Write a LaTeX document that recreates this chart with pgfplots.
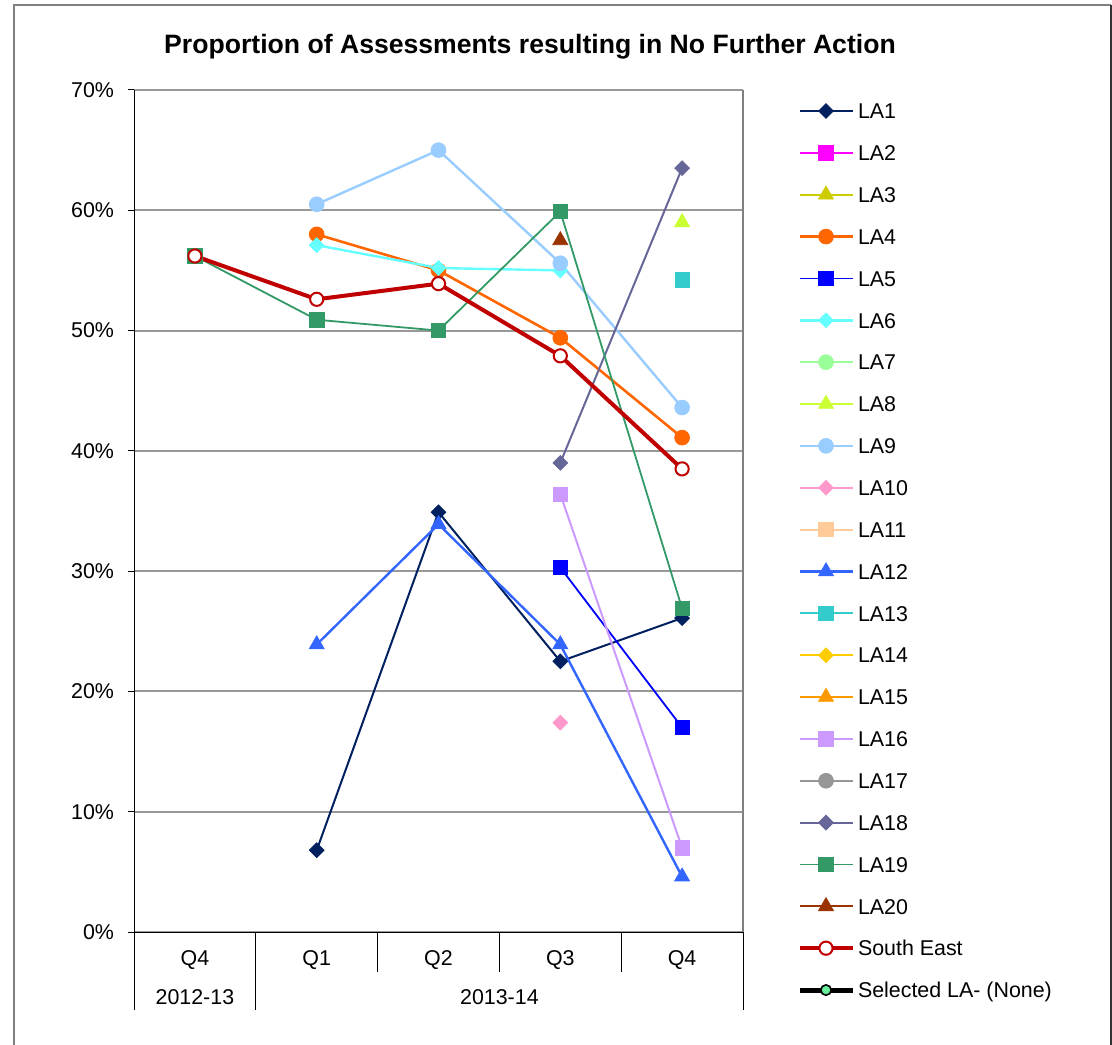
\documentclass[border=0pt]{standalone}
\usepackage{fontspec}
\setmainfont{Liberation Sans}
\usepackage{pgfplots}
\pgfplotsset{compat=1.18}

\definecolor{cLAa}{HTML}{002060}
\definecolor{cLAb}{HTML}{FF00FF}
\definecolor{cLAc}{HTML}{CCCC00}
\definecolor{cLAd}{HTML}{FF6600}
\definecolor{cLAe}{HTML}{0000FF}
\definecolor{cLAf}{HTML}{66FFFF}
\definecolor{cLAg}{HTML}{99FF99}
\definecolor{cLAh}{HTML}{CCFF33}
\definecolor{cLAi}{HTML}{99CCFF}
\definecolor{cLAj}{HTML}{FF99CC}
\definecolor{cLAk}{HTML}{FFCC99}
\definecolor{cLAl}{HTML}{3366FF}
\definecolor{cLAm}{HTML}{33CCCC}
\definecolor{cLAn}{HTML}{FFCC00}
\definecolor{cLAo}{HTML}{FF9900}
\definecolor{cLAp}{HTML}{CC99FF}
\definecolor{cLAq}{HTML}{969696}
\definecolor{cLAr}{HTML}{666699}
\definecolor{cLAs}{HTML}{339966}
\definecolor{cLAt}{HTML}{993300}
\definecolor{cSE}{HTML}{C00000}
\definecolor{cSel}{HTML}{66EE99}
\definecolor{gridgray}{HTML}{999999}

\pgfplotsset{
  dia/.style={color=#1, line width=1pt, mark=square*, mark options={solid, rotate=45, mark size=2.6pt, line width=0.4pt, fill=#1}},
  sqr/.style={color=#1, line width=1pt, mark=square*, mark options={solid, mark size=3.6pt, line width=0.4pt, fill=#1}},
  tri/.style={color=#1, line width=1pt, mark=triangle*, mark options={solid, mark size=4.3pt, line width=0.4pt, fill=#1}},
  cir/.style={color=#1, line width=1pt, mark=*, mark options={solid, mark size=3.7pt, line width=0.4pt, fill=#1}},
}

\begin{document}
\begin{tikzpicture}
\useasboundingbox (0pt,0pt) rectangle (556pt,522pt);
\draw[gray, line width=0.6pt] (7pt,-1pt) -- (7pt,519.5pt) -- (555.5pt,519.5pt);
\draw[black!80, line width=0.8pt] (555.5pt,519.5pt) -- (555.5pt,-1pt);
\node[font=\bfseries\fontsize{13.3}{15}\selectfont] at (265pt,498.5pt) {Proportion of Assessments resulting in No Further Action};

\begin{axis}[
  at={(67pt,56pt)}, anchor=south west,
  width=304.5pt, height=421pt, scale only axis,
  xmin=-0.5, xmax=4.5, ymin=0, ymax=70,
  clip=false,
  axis line style={draw=none},
  xtick={0,1,2,3,4},
  xticklabels={Q4,Q1,Q2,Q3,Q4},
  xtick style={draw=none},
  xticklabel style={yshift=-2.5pt},
  ytick={0,10,20,30,40,50,60,70},
  yticklabels={0\%,10\%,20\%,30\%,40\%,50\%,60\%,70\%},
  ytick pos=left,
  tick align=outside,
  major tick length=3pt,
  ytick style={black, line width=0.5pt},
  yticklabel style={xshift=-3.5pt},
  ymajorgrids,
  grid style={gridgray, line width=1pt},
  tick label style={font=\fontsize{10.7}{12}\selectfont},
  legend style={draw=none, fill=none, at={(axis description cs:1.0936,0.98694)}, xshift=-1.5pt, anchor=north west,
    font=\fontsize{10.7}{12}\selectfont, inner sep=0pt, outer sep=0pt,
    row sep=10.93pt, column sep=1.5pt, cells={anchor=west},
    nodes={inner sep=0pt, text height=7.7pt, text depth=0pt}},
  legend image code/.code={
    \path[draw=none, fill=none] (0pt,-5pt) rectangle (26.5pt,5pt);
    \draw[mark repeat=2,mark phase=2,#1] plot coordinates {(0pt,0pt) (13.25pt,0pt) (26.5pt,0pt)};
  },
]
% LA1
\addplot[dia=cLAa] coordinates {(1,6.8) (2,34.9) (3,22.5) (4,26.1)};
\addlegendentry{LA1}
% LA2
\addlegendimage{sqr=cLAb}
\addlegendentry{LA2}
% LA3
\addlegendimage{tri=cLAc}
\addlegendentry{LA3}
% LA4
\addplot[cir=cLAd, line width=1.3pt] coordinates {(1,58.0) (2,55.0) (3,49.4) (4,41.1)};
\addlegendentry{LA4}
% LA5
\addplot[sqr=cLAe, line width=0.9pt] coordinates {(3,30.3) (4,17.0)};
\addlegendentry{LA5}
% LA6
\addplot[dia=cLAf, line width=1.2pt] coordinates {(1,57.1) (2,55.2) (3,55.0)};
\addlegendentry{LA6}
% LA7
\addlegendimage{cir=cLAg}
\addlegendentry{LA7}
% LA8
\addplot[tri=cLAh] coordinates {(4,59.0)};
\addlegendentry{LA8}
% LA9
\addplot[cir=cLAi, line width=1.2pt] coordinates {(1,60.5) (2,65.0) (3,55.6) (4,43.6)};
\addlegendentry{LA9}
% LA10
\addplot[dia=cLAj] coordinates {(3,17.4)};
\addlegendentry{LA10}
% LA11
\addlegendimage{sqr=cLAk}
\addlegendentry{LA11}
% LA12
\addplot[tri=cLAl, line width=1.2pt] coordinates {(1,23.9) (2,33.9) (3,23.9) (4,4.6)};
\addlegendentry{LA12}
% LA13
\addplot[sqr=cLAm] coordinates {(4,54.2)};
\addlegendentry{LA13}
% LA14
\addlegendimage{dia=cLAn}
\addlegendentry{LA14}
% LA15
\addlegendimage{tri=cLAo}
\addlegendentry{LA15}
% LA16
\addplot[sqr=cLAp] coordinates {(3,36.4) (4,7.0)};
\addlegendentry{LA16}
% LA17
\addlegendimage{cir=cLAq}
\addlegendentry{LA17}
% LA18
\addplot[dia=cLAr] coordinates {(3,39.0) (4,63.5)};
\addlegendentry{LA18}
% LA19
\addplot[sqr=cLAs, line width=0.9pt] coordinates {(0,56.2) (1,50.9) (2,50.0) (3,59.9) (4,26.9)};
\addlegendentry{LA19}
% LA20
\addplot[tri=cLAt] coordinates {(3,57.5)};
\addlegendentry{LA20}
% South East
\addplot[color=cSE, line width=2pt, mark=*, mark options={solid, mark size=3.3pt, line width=1pt, fill=white, draw=cSE}] coordinates {(0,56.2) (1,52.6) (2,53.9) (3,47.9) (4,38.5)};
\addlegendentry{South East}
% Selected LA
\addlegendimage{color=black, line width=2.5pt, mark=*, mark options={solid, mark size=2.6pt, line width=0.8pt, fill=cSel, draw=black}}
\addlegendentry{Selected LA- (None)}

% axis frame and category separators
\draw[gray, line width=0.6pt] (rel axis cs:1,0) -- (rel axis cs:1,1);
\draw[black, line width=0.5pt] (rel axis cs:0,0) -- (rel axis cs:1,0);
\draw[black, line width=0.5pt] (rel axis cs:0,1) -- ([yshift=-39pt]rel axis cs:0,0);
\draw[black, line width=0.5pt] (axis cs:0.5,0) -- ([yshift=-39pt]axis cs:0.5,0);
\draw[black, line width=0.5pt] (axis cs:4.5,0) -- ([yshift=-39pt]axis cs:4.5,0);
\draw[black, line width=0.5pt] (axis cs:1.5,0) -- ([yshift=-20pt]axis cs:1.5,0);
\draw[black, line width=0.5pt] (axis cs:2.5,0) -- ([yshift=-20pt]axis cs:2.5,0);
\draw[black, line width=0.5pt] (axis cs:3.5,0) -- ([yshift=-20pt]axis cs:3.5,0);
\node[font=\fontsize{10.7}{12}\selectfont] at ([yshift=-32.5pt]axis cs:0,0) {2012-13};
\node[font=\fontsize{10.7}{12}\selectfont] at ([yshift=-32.5pt]axis cs:2.5,0) {2013-14};
\end{axis}
\end{tikzpicture}
\end{document}
